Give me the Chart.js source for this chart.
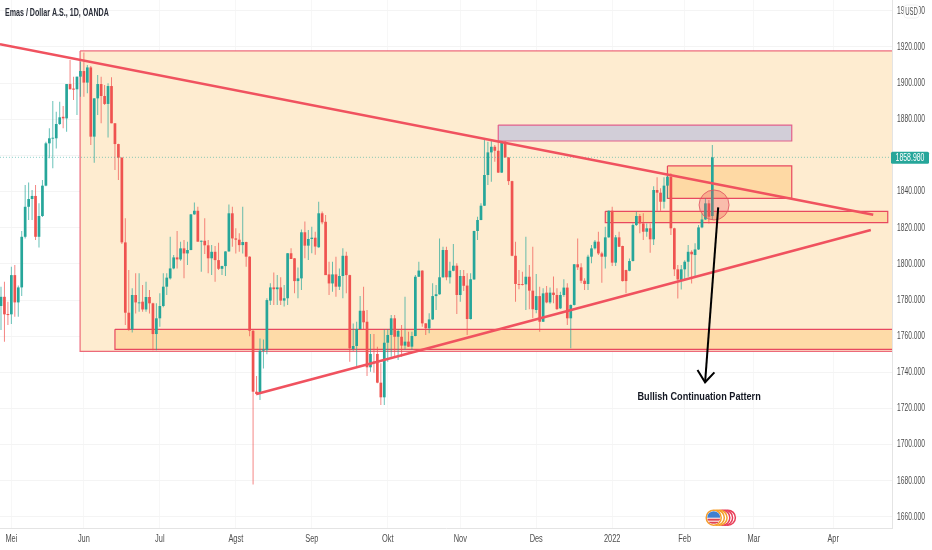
<!DOCTYPE html>
<html>
<head>
<meta charset="utf-8">
<title>Emas / Dollar A.S.</title>
<script src="https://cdn.jsdelivr.net/npm/chart.js@4"></script>
<style>
  html, body { margin: 0; padding: 0; background: #fff; overflow: hidden; }
  canvas { display: block; }
</style>
</head>
<body>
<canvas id="chart" width="932" height="550"></canvas>
<script>
// daily candles
const opens = [
  1776.7,1781.8,1772.3,1772.1,1793.8,1778.7,1787,1815,1831.6,1835.9,
  1837.6,1815,1826.5,1843.3,1866.7,1869.3,1869.5,1877.4,1881.4,1880.5,
  1899.5,1897,1896.6,1903.6,1906.7,1900.3,1908.7,1870.4,1891.6,1899.5,
  1892.9,1888.5,1898.4,1877.8,1866.3,1858.8,1811.9,1773,1763.8,1782.8,
  1778.2,1779.1,1774.8,1781.7,1778.2,1761.2,1769.9,1776.7,1787.4,1792,
  1797.5,1803.6,1802.5,1808.6,1805.8,1807.7,1827.4,1829.4,1812.3,1812.8,
  1810.3,1803.1,1806.7,1802.1,1797.3,1798.8,1806.9,1828,1814.1,1813.4,
  1810.4,1812.1,1804,1763,1729.3,1728.4,1752,1752.3,1779.7,1787,
  1786,1787,1779.7,1781,1805.9,1803.1,1790.5,1792,1817.5,1810.1,
  1813.8,1814.5,1809.2,1828,1823.3,1794.2,1789.2,1794.2,1787.4,1793.3,
  1804.5,1793.8,1752.9,1754.6,1764,1774.1,1768,1742.8,1745.9,1750.2,
  1734.3,1726.2,1756.4,1760.7,1769.9,1759.7,1759.7,1754.8,1757,1754.2,
  1760.1,1792.9,1796.3,1767.1,1764.4,1769.3,1782.2,1783.2,1792.6,1807.7,
  1792.6,1796.2,1799,1782.8,1793.3,1788,1769.5,1791.4,1818.2,1824.3,
  1832.2,1849.2,1861.7,1864.8,1862.6,1850.5,1867.6,1858.9,1845.8,1804.5,
  1788.9,1788.9,1788.7,1792.9,1785.2,1774.5,1782.2,1768,1784.1,1778.7,
  1784.1,1782.8,1775.4,1782.8,1786.9,1769.9,1777.3,1799.8,1798.1,1790.7,
  1788.9,1804,1808.6,1812.3,1805.8,1804,1814.7,1829.4,1800.7,1814.7,
  1809.9,1796.6,1796.2,1801.6,1821.5,1826.5,1822.4,1817.8,1819.7,1813.6,
  1840.9,1839.4,1834.4,1843.3,1848.2,1819.7,1797,1791,1797,1801.2,
  1806.7,1804.9,1808,1820.2,1824.6,1833.5,1826.5
];
const highs = [
  1787.4,1790.1,1779.1,1798.4,1799.4,1788,1818.2,1843.6,1845.1,1840.9,
  1843.6,1833.5,1846.4,1867.6,1875,1890.1,1884.2,1889.7,1887.3,1899.5,
  1912.8,1903.6,1903.6,1911.9,1916.9,1910,1909.5,1891.6,1904.5,1903.6,
  1899,1899.9,1903.2,1878,1866.5,1859,1825.2,1796.6,1786.5,1794.8,
  1794.8,1788.3,1790.1,1785.5,1778.5,1778.2,1783.7,1794.8,1794.8,1815,
  1804.9,1818.2,1812.3,1813.2,1812.3,1827.6,1834,1831.6,1812.9,1825.2,
  1813.2,1810.4,1809.9,1811.7,1799,1807,1832.9,1831.6,1819.7,1816.9,
  1831.6,1812.3,1804.2,1764,1738,1758.8,1758.2,1781,1789.3,1795.3,
  1793.9,1792.6,1788.3,1806,1808.6,1803.3,1798,1819.1,1823.4,1818.8,
  1820.6,1817.8,1834.4,1829,1827,1801.2,1801.2,1804,1797.5,1808.6,
  1806.7,1794,1767.1,1768,1782.2,1787.4,1774.5,1761.2,1761.2,1754.2,
  1745,1763.8,1764,1771.7,1771.7,1764,1766.2,1781.9,1762.5,1762.5,
  1793.9,1801.2,1796.5,1767.3,1772.7,1789.3,1788.3,1814.1,1809.5,1809.5,
  1801.2,1811,1800.3,1796.6,1796.6,1794.8,1794.8,1818.4,1826.1,1833.5,
  1868.5,1867.6,1868.5,1865.8,1867.6,1870.4,1871.3,1859.1,1846,1812.3,
  1796.6,1795.7,1815,1799.4,1809.5,1794.4,1787.4,1786.5,1787.8,1787,
  1793,1786.5,1784.6,1791.5,1789.3,1777.5,1800,1814.1,1800.3,1792,
  1805,1810.4,1813.2,1817.8,1806.7,1820.6,1829.6,1831.6,1816,1817.8,
  1810.1,1796.8,1803,1822.4,1828.9,1827.6,1828,1822.4,1822.4,1843,
  1847.9,1841.8,1847.9,1849.2,1850.1,1820,1799.4,1799.4,1802,1810.4,
  1807.6,1811.4,1821.5,1827.9,1836.3,1835.3,1865.8
];
const lows = [
  1763.4,1757,1766.2,1766.7,1770.8,1770.8,1782.2,1814,1824.3,1824.3,
  1813.2,1809.1,1826,1843,1858.4,1852.9,1863.9,1876.8,1875,1873.1,
  1896.6,1890.7,1882.4,1892.5,1892.5,1894.4,1865.8,1856,1882.4,1877.8,
  1887.9,1870,1877.8,1851.9,1846.4,1811,1766.2,1763,1762,1772.6,
  1773.6,1773.6,1773.6,1772.6,1752.3,1752.3,1765.2,1776,1782.8,1791.4,
  1797,1797.5,1801.8,1792,1799.4,1807.5,1827.2,1812.2,1795.7,1805.5,
  1794.8,1793.8,1790.1,1796.6,1793.8,1793.3,1806.7,1809.5,1805.8,1806.7,
  1805.8,1798.4,1760,1678,1727.4,1724.7,1742.2,1750,1777.3,1777.3,
  1777.3,1777.3,1776.4,1777.3,1802.7,1783.7,1781,1785.6,1803.1,1802.2,
  1805.9,1805,1809,1822,1793.8,1782.8,1784.6,1781.8,1785.5,1781,
  1783.7,1745.9,1752,1743.5,1763.8,1763.4,1738,1740.4,1739.8,1734,
  1722,1722,1745.9,1748.7,1748.7,1746.8,1748.7,1752.4,1754,1752.4,
  1760,1792.7,1765.2,1760.7,1761.6,1769,1774.5,1783,1792.4,1791,
  1789.2,1796,1772.3,1779.1,1785,1760.7,1769.3,1791.2,1813.2,1824.1,
  1832,1843.6,1845.5,1856.5,1850.3,1850.3,1858.7,1843.6,1804.3,1779.1,
  1786,1788,1774.5,1774.9,1769.9,1772.7,1762.5,1767.8,1778.2,1778,
  1778.2,1774.5,1775,1781.9,1766.2,1753.3,1777,1796.6,1789.3,1785.6,
  1785.6,1800.3,1808,1804.9,1789.6,1797.5,1814.5,1798.8,1798.8,1809.3,
  1790.3,1783.7,1796,1801.4,1821,1816.9,1813.2,1815,1806.2,1810.4,
  1829.4,1829.4,1830.7,1836.3,1816,1793.3,1780.9,1785.9,1791,1792.9,
  1789.2,1792.9,1807.7,1819.7,1824.3,1822.4,1824.3
];
const closes = [
  1781.8,1772.1,1771.7,1793.8,1778.7,1787,1815,1831.6,1835.9,1837.6,
  1815,1826.5,1843.3,1866.7,1869.5,1869.8,1877.4,1881.1,1880.5,1899.5,
  1896.6,1896.4,1903.6,1906.7,1900.3,1908.7,1870.4,1891.6,1899.5,1892.9,
  1888.5,1898.4,1877.8,1866.3,1858.8,1811.9,1773,1763.8,1782.8,1778.7,
  1778.7,1774.8,1781.7,1778.2,1761.2,1769.9,1776.7,1787.4,1792.4,1797.5,
  1803.6,1802.5,1808.6,1805.8,1807.7,1827.4,1829.4,1812.3,1812.8,1810.3,
  1803.1,1806.7,1802.1,1797.3,1798.8,1806.9,1828,1814.1,1813.4,1810.4,
  1812.1,1804,1763,1729.3,1728,1752,1752.7,1780,1787,1786,
  1787,1779.7,1781,1805.9,1802.7,1790.5,1792,1817.5,1810.1,1813.8,
  1814.5,1809.6,1828,1823,1793.8,1789.2,1794.2,1787.4,1793.3,1804.5,
  1793.8,1753.3,1754.6,1764,1774.1,1767.7,1742.8,1750.2,1745.4,1734.3,
  1726.2,1756.4,1760.7,1769.9,1759.7,1762.9,1754.8,1757,1754.2,1760.1,
  1792.9,1796.3,1767.1,1764.4,1769.3,1782.2,1783.2,1792.6,1807.7,1792.6,
  1796.2,1799,1782.8,1793.3,1787.9,1769.5,1791.5,1818.2,1824.3,1832.2,
  1849.2,1861.7,1864.8,1862.6,1850.5,1867.6,1858.9,1845.8,1804.5,1788.9,
  1788.4,1788.4,1792.9,1785.2,1774.9,1782.2,1768,1783.7,1778.7,1784.1,
  1782.8,1775,1782.8,1786.9,1769.9,1777.3,1799.8,1798.1,1790.7,1788.9,
  1804,1808.6,1812.3,1805.8,1804,1814.7,1829.4,1800.7,1814.7,1809.5,
  1790.5,1790.5,1801.6,1821.5,1826.5,1822.4,1817.8,1819.7,1813.6,1840.9,
  1839.4,1834.4,1843.3,1848.2,1819.7,1797,1791.4,1797,1801.2,1806.7,
  1805.3,1808,1820.2,1824.6,1833.5,1826.1,1858.98
];

// axis ticks
const monthBars = [3, 24, 46, 68, 90, 112, 133, 155, 177, 198, 218, 241];
const monthLabels = ['Mei', 'Jun', 'Jul', 'Agst', 'Sep', 'Okt', 'Nov', 'Des', '2022', 'Feb', 'Mar', 'Apr'];
const priceTicks = [1660, 1680, 1700, 1720, 1740, 1760, 1780, 1800, 1820, 1840, 1860, 1880, 1900, 1920, 1940];

// drawings on the chart, [bar, bar, price, price]
const zoneBig = [22.9, 258.5, 1917.8, 1751.6];
const zoneLow = [33, 258.5, 1763.8, 1752.7];
const zoneGrey = [144, 229, 1876.8, 1868];
const zoneTop = [193, 229, 1854.2, 1836.3];
const zoneMid = [175, 256.8, 1829.1, 1822.8];
const trendDown = [{ x: -0.3, y: 1921.5 }, { x: 252.6, y: 1827.2 }];
const trendUp = [{ x: 74, y: 1728 }, { x: 251.9, y: 1818.7 }];
const arrowShaft = [{ x: 207.7, y: 1831.3 }, { x: 203.9, y: 1734.5 }];
const arrowHead = [{ x: 201.7, y: 1741.3 }, { x: 203.9, y: 1734.5 }, { x: 206.6, y: 1740 }];
const circleMark = [{ x: 206.5, y: 1832.6 }];
const eventBars = [210.5, 209.7, 208.9, 208.1, 207.3, 206.4];
const eventPrice = 1659.6;
const lastPrice = 1858.98;

const GREEN = '#26a69a';
const RED = '#ef5350';
const FONT = '"Liberation Sans", sans-serif';
const LABEL = '#4d4d4d';

const isUp = i => closes[i] >= opens[i];
const bodies = opens.map((o, i) => ({ x: i, y: [o, closes[i]] }));
const wicks = highs.map((h, i) => ({ x: i, y: [lows[i], h] }));

function zone(z, fill, stroke, order) {
  return {
    type: 'line',
    data: [
      { x: z[0], y: z[2] }, { x: z[1], y: z[2] }, { x: z[1], y: z[3] },
      { x: z[0], y: z[3] }, { x: z[0], y: z[2] }
    ],
    fill: 'shape',
    backgroundColor: fill,
    borderColor: stroke,
    borderWidth: 1.2,
    pointRadius: 0,
    tension: 0,
    order: order
  };
}

function stroke(points, color, width, order) {
  return {
    type: 'line',
    data: points,
    borderColor: color,
    borderWidth: width,
    pointRadius: 0,
    tension: 0,
    fill: false,
    order: order
  };
}

// no narrow font is installed, so the text is squeezed sideways
function squeezed(ctx, text, x, y, font, color, sx, align) {
  ctx.save();
  ctx.font = font;
  ctx.fillStyle = color;
  ctx.textAlign = align || 'left';
  ctx.textBaseline = 'middle';
  ctx.translate(x, y);
  ctx.scale(sx, 1);
  ctx.fillText(text, 0, 0);
  ctx.restore();
}

// axis labels, title, note, price tag, USD badge and the flag on the event icon
const textPlugin = {
  id: 'textPlugin',
  afterDraw(chart) {
    const ctx = chart.ctx;
    const xs = chart.scales.x;
    const ys = chart.scales.y;
    const tagY = ys.getPixelForValue(lastPrice);

    ys.ticks.forEach(t => {
      const y = ys.getPixelForValue(t.value);
      // the price tag covers the label next to it
      if (Math.abs(y - tagY) > 8) {
        squeezed(ctx, t.value.toFixed(3), 897, y, '10px ' + FONT, LABEL, 0.67);
      }
    });
    xs.ticks.forEach(t => {
      const label = monthLabels[monthBars.indexOf(t.value)];
      squeezed(ctx, label, xs.getPixelForValue(t.value), 539, '10px ' + FONT, LABEL, 0.74, 'center');
    });

    squeezed(ctx, 'Emas / Dollar A.S., 1D, OANDA', 5, 13, 'bold 10px ' + FONT, '#2a2e39', 0.71);
    squeezed(ctx, 'Bullish Continuation Pattern', 637.5, 397, 'bold 11px ' + FONT, '#131722', 0.83);

    // last price tag
    ctx.save();
    ctx.fillStyle = GREEN;
    ctx.beginPath();
    ctx.roundRect(891, tagY - 5.5, 38, 12, 1.5);
    ctx.fill();
    ctx.restore();
    squeezed(ctx, lastPrice.toFixed(3), 910, tagY + 1, '10px ' + FONT, '#fff', 0.69, 'center');

    // currency badge
    ctx.save();
    ctx.fillStyle = '#fff';
    ctx.strokeStyle = '#f0f0f0';
    ctx.beginPath();
    ctx.roundRect(904, 5, 15, 13, 3);
    ctx.fill();
    ctx.stroke();
    ctx.restore();
    squeezed(ctx, 'USD', 911.5, 12.5, '10px ' + FONT, LABEL, 0.6, 'center');

    // flag on the front event circle
    const fx = xs.getPixelForValue(eventBars[eventBars.length - 1]);
    const fy = ys.getPixelForValue(eventPrice);
    ctx.save();
    ctx.beginPath();
    ctx.arc(fx, fy, 6.5, 0, Math.PI * 2);
    ctx.clip();
    ctx.fillStyle = '#fff';
    ctx.fillRect(fx - 7, fy - 7, 14, 14);
    ctx.fillStyle = '#e0454f';
    ctx.fillRect(fx - 7, fy + 1, 14, 2);
    ctx.fillRect(fx - 7, fy + 4, 14, 2);
    ctx.fillStyle = '#3f7fd0';
    ctx.fillRect(fx - 7, fy - 7, 14, 7);
    ctx.restore();
  }
};

const priceLine = stroke([{ x: -0.3, y: lastPrice }, { x: 258.5, y: lastPrice }], 'rgba(38,166,154,0.55)', 1, 4);
priceLine.borderDash = [1, 2];

new Chart(document.getElementById('chart'), {
  type: 'bar',
  data: {
    datasets: [
      zone(zoneBig, '#feecd0', 'rgba(232,72,95,0.8)', 10),
      // these zones sit under the candles
      zone(zoneLow, 'rgba(253,205,135,0.55)', '#e8485f', 7),
      zone(zoneTop, 'rgba(253,205,135,0.6)', '#e8485f', 7),
      zone(zoneMid, 'rgba(253,205,135,0.6)', '#e8485f', 7),
      {
        data: wicks,
        backgroundColor: wicks.map((w, i) => isUp(i) ? 'rgba(38,166,154,0.7)' : 'rgba(239,83,80,0.7)'),
        barThickness: 1,
        grouped: false,
        inflateAmount: 0,
        order: 6
      },
      {
        data: bodies,
        backgroundColor: bodies.map((b, i) => isUp(i) ? GREEN : RED),
        barThickness: 2.7,
        grouped: false,
        inflateAmount: 0,
        order: 5
      },
      priceLine,
      zone(zoneGrey, 'rgb(210,206,216)', '#e2608c', 3),
      stroke(trendDown, '#f0525f', 2.6, 2),
      stroke(trendUp, '#f0525f', 2.6, 2),
      {
        type: 'scatter',
        data: circleMark,
        pointRadius: 15,
        pointBackgroundColor: 'rgba(240,80,90,0.3)',
        pointBorderColor: 'rgba(224,80,95,0.8)',
        pointBorderWidth: 1,
        order: 1
      },
      stroke(arrowShaft, '#000', 2, 0),
      stroke(arrowHead, '#000', 2, 0),
      {
        type: 'scatter',
        data: eventBars.map(b => ({ x: b, y: eventPrice })),
        pointRadius: 7.5,
        pointBackgroundColor: '#fff',
        pointBorderWidth: 1.5,
        pointBorderColor: ['#e8405a', '#e8405a', '#e8405a', '#f59e2c', '#f59e2c', '#f59e2c'],
        order: 0
      }
    ]
  },
  options: {
    responsive: false,
    animation: false,
    devicePixelRatio: 1,
    layout: { padding: 0, autoPadding: false },
    plugins: {
      legend: { display: false },
      tooltip: { enabled: false },
      title: { display: false }
    },
    scales: {
      x: {
        type: 'linear',
        offset: false,
        min: -0.29,
        max: 258.03,
        afterBuildTicks: scale => { scale.ticks = monthBars.map(v => ({ value: v })); },
        afterFit: scale => { scale.height = 22; },
        grid: { color: '#f7f7f7', offset: false, drawTicks: false },
        border: { color: '#e4e4e4' },
        ticks: { display: false, autoSkip: false, callback: value => monthLabels[monthBars.indexOf(value)] }
      },
      y: {
        position: 'right',
        min: 1653.9,
        max: 1946,
        afterBuildTicks: scale => { scale.ticks = priceTicks.map(v => ({ value: v })); },
        afterFit: scale => { scale.width = 40; },
        grid: { color: '#f4f4f4', drawTicks: false },
        border: { color: '#e4e4e4' },
        ticks: { display: false, callback: value => value.toFixed(3) }
      }
    }
  },
  plugins: [textPlugin]
});
</script>
</body>
</html>
